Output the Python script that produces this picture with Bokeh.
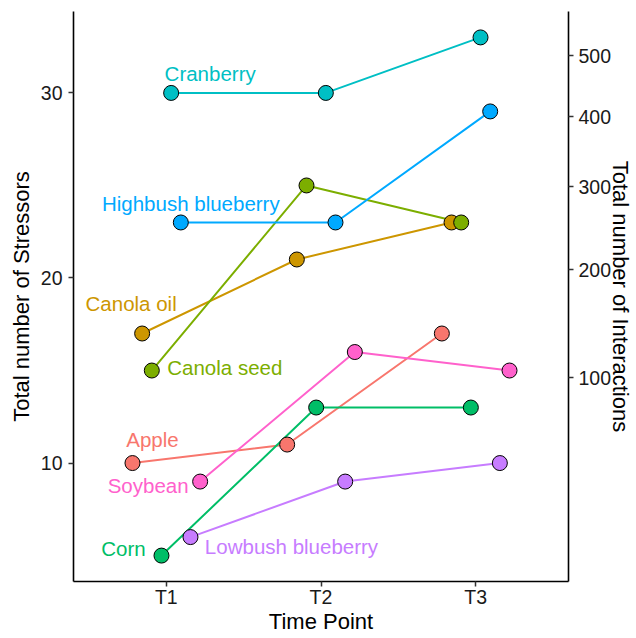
import math
from bokeh.plotting import figure
from bokeh.models import Range1d, LinearAxis, FixedTicker, CustomJSTickFormatter, ColumnDataSource
from bokeh.transform import dodge
from bokeh.core.properties import value
from bokeh.embed import file_html
from bokeh.resources import INLINE

# ---------------- data ----------------
time_points = ["T1", "T2", "T3"]
crops = ["Apple", "Canola oil", "Canola seed", "Corn", "Cranberry",
         "Highbush blueberry", "Lowbush blueberry", "Soybean"]
apple = [10, 11, 17]
canola_oil = [17, 21, 23]
canola_seed = [15, 25, 23]
corn = [5, 13, 13]
cranberry = [30, 30, 33]
highbush_blueberry = [23, 23, 29]
lowbush_blueberry = [6, 9, 10]
soybean = [9, 16, 15]
left_ticks = [10, 20, 30]
interaction_ticks = [100, 200, 300, 400, 500]

series = [apple, canola_oil, canola_seed, corn, cranberry,
          highbush_blueberry, lowbush_blueberry, soybean]

# ---------------- style ----------------
colors = ["#F8766D", "#CD9600", "#7CAE00", "#00BE67", "#00BFC4",
          "#00A9FF", "#C77CFF", "#FF61CC"]
# label offsets (screen px) relative to the T1 point
label_dx = [20, -11, 73, -38, 39, 10, 101, -52]
label_dy = [-24, -30, -3, -7, -19, -19, 9, 4]
FONT = "Liberation Sans"
dodge_width = 0.5

# secondary-axis transform (interactions -> stressor scale)
SLOPE, ICPT = 0.7104, -0.388
def inter_to_stress(r):
    return (math.sqrt(r) - ICPT) / SLOPE

y_lo, y_hi = min(min(s) for s in series), max(max(s) for s in series)
pad = 0.05 * (y_hi - y_lo)

p = figure(width=636, height=638,
           x_range=Range1d(0.4, 3.6), y_range=Range1d(y_lo - pad, y_hi + pad),
           output_backend="svg", toolbar_location=None,
           min_border_left=73, min_border_right=68, min_border_top=11, min_border_bottom=57)
p.outline_line_color = None
p.xgrid.visible = False
p.ygrid.visible = False
p.background_fill_color = "white"

p.extra_y_ranges = {"inter": Range1d(y_lo - pad, y_hi + pad)}

n = len(crops)
xnum = [i + 1 for i in range(len(time_points))]
for i, (crop, vals, col) in enumerate(zip(crops, series, colors)):
    off = (i - (n - 1) / 2) * dodge_width / n
    src = ColumnDataSource(dict(t=xnum, y=vals))
    p.line(x=dodge("t", off), y="y", source=src, line_color=col, line_width=2)

for i, (crop, vals, col) in enumerate(zip(crops, series, colors)):
    off = (i - (n - 1) / 2) * dodge_width / n
    src = ColumnDataSource(dict(t=xnum, y=vals))
    p.scatter(x=dodge("t", off), y="y", source=src, size=15, fill_color=col,
              line_color="black", line_width=1)

for i, (crop, vals, col) in enumerate(zip(crops, series, colors)):
    off = (i - (n - 1) / 2) * dodge_width / n
    src = ColumnDataSource(dict(t=[xnum[0]], y=[vals[0]], lab=[crop]))
    p.text(x=dodge("t", off), y="y", text="lab", source=src,
           x_offset=label_dx[i], y_offset=label_dy[i],
           text_color=col, text_font=value(FONT), text_font_size="20.5px",
           text_align="center", text_baseline="alphabetic")

def style_axis(ax):
    ax.axis_line_color = "black"
    ax.axis_line_width = 1.6
    ax.major_tick_line_color = "#333333"
    ax.major_tick_line_width = 1.5
    ax.major_tick_out = 5
    ax.major_tick_in = 0
    ax.minor_tick_line_color = None
    ax.major_label_text_font = FONT
    ax.major_label_text_font_size = "19.5px"
    ax.major_label_text_color = "#1a1a1a"
    ax.axis_label_text_font = FONT
    ax.axis_label_text_font_size = "22px"
    ax.axis_label_text_font_style = "normal"
    ax.axis_label_text_color = "black"

xa = p.xaxis[0]
xa.ticker = FixedTicker(ticks=xnum)
xa.major_label_overrides = {k: v for k, v in zip(xnum, time_points)}
xa.axis_label = "Time Point"
style_axis(xa)
xa.major_label_standoff = -1
xa.axis_label_standoff = -2

ya = p.yaxis[0]
ya.ticker = FixedTicker(ticks=left_ticks)
ya.axis_label = "Total number of Stressors"
style_axis(ya)
ya.major_label_standoff = 6
ya.axis_label_standoff = 4

ra = LinearAxis(y_range_name="inter",
                ticker=FixedTicker(ticks=[inter_to_stress(r) for r in interaction_ticks]),
                formatter=CustomJSTickFormatter(args=dict(a=SLOPE, b=ICPT), code="""
                    const r = Math.pow(tick * a + b, 2);
                    return String(Math.round(r / 100) * 100);
                """),
                axis_label="Total number of Interactions")
style_axis(ra)
ra.major_label_standoff = 5
ra.axis_label_standoff = -6
p.add_layout(ra, "right")

open("out.html", "w").write(file_html(p, INLINE))
